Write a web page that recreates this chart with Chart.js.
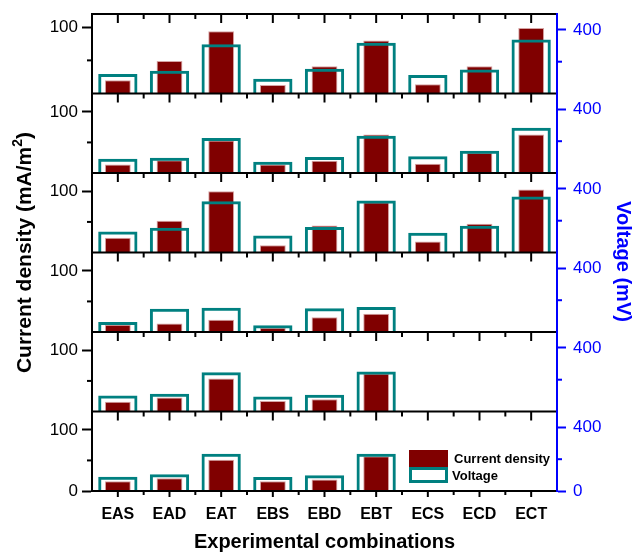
<!DOCTYPE html>
<html>
<head>
<meta charset="utf-8">
<script src="https://cdn.jsdelivr.net/npm/chart.js@4"></script>
<style>
html,body{margin:0;padding:0;background:#fff}
#wrap{width:637px;height:554px;position:relative}
</style>
</head>
<body>
<div id="wrap"><canvas id="c" width="637" height="554"></canvas></div>
<script>
// ---------- data ----------
const categories = ['EAS','EAD','EAT','EBS','EBD','EBT','ECS','ECD','ECT'];

// current density (mA/m2), panels top -> bottom
const current1 = [20, 49, 94, 13, 41, 80, 14, 41, 99];
const current2 = [14, 21, 53, 14, 20, 63, 15, 33, 63];
const current3 = [24, 52, 100, 12, 44, 82, 18, 47, 103];
const current4 = [12, 14, 20, 7, 24, 30, 1, 1, 1];
const current5 = [16, 23, 54, 17, 20, 62, 0.5, 0.5, 0.5];
const current6 = [16, 21, 51, 16, 19, 57, 0, 0, 0];

// voltage (mV), panels top -> bottom
const voltage1 = [122, 143, 310, 92, 155, 319, 117, 151, 340];
const voltage2 = [90, 96, 220, 71, 101, 235, 105, 140, 285];
const voltage3 = [132, 155, 323, 107, 161, 327, 124, 168, 352];
const voltage4 = [63, 147, 153, 42, 149, 157, 4, 4, 4];
const voltage5 = [101, 111, 247, 94, 105, 252, 2, 2, 2];
const voltage6 = [90, 105, 235, 88, 99, 235, 0, 0, 0];

const currentSeries = [current1, current2, current3, current4, current5, current6];
const voltageSeries = [voltage1, voltage2, voltage3, voltage4, voltage5, voltage6];

const currentMax = [120, 130, 130, 130, 130, 130];
const voltageMax = [500, 500, 500, 500, 500, 500];
const currentTicks = [[100], [100], [100], [100], [100], [0, 100]];
const voltageTicks = [[400], [400], [400], [400], [400], [0, 400]];
const currentMinorTick = 50;
const voltageMinorTick = 200;

const seriesNames = ['Current density', 'Voltage'];
const xTitle = 'Experimental combinations';
const yLeftTitleMain = 'Current density (mA/m';
const yLeftTitleSup = '2';
const yLeftTitleEnd = ')';
const yRightTitle = 'Voltage (mV)';

// ---------- style ----------
const RED = '#800000';
const TEAL = '#008080';
const BLUE = '#0000ff';
const FONT = "'Liberation Sans', Arial, Helvetica, sans-serif";
Chart.defaults.font.family = FONT;
Chart.defaults.color = '#000';

const NP = currentSeries.length;

const datasets = [];
for (let p = 0; p < NP; p++) {
  datasets.push({
    label: seriesNames[1],
    data: voltageSeries[p],
    yAxisID: 'v' + p,
    backgroundColor: 'rgba(0,0,0,0)',
    borderColor: TEAL,
    borderWidth: 3,
    barPercentage: 0.76,
    categoryPercentage: 1,
    grouped: false,
    order: 0
  });
  datasets.push({
    label: seriesNames[0],
    data: currentSeries[p],
    yAxisID: 'y' + p,
    backgroundColor: RED,
    borderColor: '#d6a3a3',
    borderWidth: 1,
    barPercentage: 0.5,
    categoryPercentage: 1,
    grouped: false,
    order: 1
  });
}

function fixV(width) {
  return s => { s.width = width; s.paddingTop = 0; s.paddingBottom = 0; };
}

const scales = {
  x: {
    type: 'category',
    labels: categories,
    position: 'bottom',
    offset: true,
    grid: { display: false },
    border: { display: false },
    ticks: { font: { size: 16, weight: 'bold' }, color: '#000', padding: 6, maxRotation: 0, autoSkip: false },
    title: { display: true, text: xTitle, font: { size: 20, weight: 'bold' }, color: '#000', padding: { top: 0, bottom: 0 } },
    afterFit: s => { s.height = 63; s.paddingLeft = 0; s.paddingRight = 0; }
  }
};
for (let p = 0; p < NP; p++) {
  scales['y' + p] = {
    type: 'linear',
    position: 'left',
    stack: 'left',
    stackWeight: 1,
    weight: NP - p,
    min: 0,
    max: currentMax[p],
    afterBuildTicks: s => { s.ticks = currentTicks[p].map(v => ({ value: v })); },
    grid: { display: true, drawOnChartArea: false, drawTicks: true, tickLength: 10, tickWidth: 2, tickColor: '#000' },
    border: { display: true, color: '#000', width: 2 },
    ticks: { font: { size: 17 }, color: '#000', padding: 4, callback: v => String(v) },
    afterFit: fixV(92)
  };
  scales['v' + p] = {
    type: 'linear',
    position: 'right',
    stack: 'right',
    stackWeight: 1,
    weight: p,
    min: 0,
    max: voltageMax[p],
    afterBuildTicks: s => { s.ticks = voltageTicks[p].map(v => ({ value: v })); },
    grid: { display: true, drawOnChartArea: false, drawTicks: true, tickLength: 9, tickWidth: 2, tickColor: BLUE },
    border: { display: true, color: BLUE, width: 2 },
    ticks: { font: { size: 17 }, color: BLUE, padding: 7, callback: v => String(v) },
    afterFit: fixV(80)
  };
}

function line(ctx, x1, y1, x2, y2) {
  ctx.beginPath(); ctx.moveTo(x1, y1); ctx.lineTo(x2, y2); ctx.stroke();
}

const decorPlugin = {
  id: 'decor',
  afterDatasetsDraw(chart) {
    const { ctx, chartArea: ca, scales: sc } = chart;
    const x = sc.x;
    const centers = categories.map((c, i) => x.getPixelForValue(i));
    const bounds = [];
    for (let i = 0; i < centers.length - 1; i++) bounds.push((centers[i] + centers[i + 1]) / 2);
    ctx.save();
    ctx.strokeStyle = '#000';
    ctx.lineWidth = 2;
    ctx.lineCap = 'butt';
    for (let p = 0; p < NP; p++) {
      const s = sc['y' + p];
      const yTop = s.top;
      line(ctx, ca.left, yTop, ca.right, yTop);
      centers.forEach(cx => line(ctx, cx, yTop, cx, yTop + 9));
      bounds.forEach(bx => line(ctx, bx, yTop, bx, yTop + 5));
      const ym = s.getPixelForValue(currentMinorTick);
      line(ctx, ca.left - 5, ym, ca.left, ym);
    }
    // bottom axis
    line(ctx, ca.left - 1, ca.bottom, ca.right, ca.bottom);
    centers.forEach(cx => line(ctx, cx, ca.bottom, cx, ca.bottom + 6));
    bounds.forEach(bx => line(ctx, bx, ca.bottom, bx, ca.bottom + 4));
    // right minor ticks
    ctx.strokeStyle = BLUE;
    for (let p = 0; p < NP; p++) {
      const s = sc['v' + p];
      const ym = s.getPixelForValue(voltageMinorTick);
      line(ctx, ca.right, ym, ca.right + 5, ym);
    }
    line(ctx, ca.right, ca.top - 1, ca.right, ca.bottom + 1);

    // left title
    ctx.fillStyle = '#000';
    ctx.textBaseline = 'middle';
    ctx.textAlign = 'left';
    const fMain = 'bold 21px ' + FONT;
    const fSup = 'bold 14px ' + FONT;
    ctx.font = fMain;
    const w1 = ctx.measureText(yLeftTitleMain).width;
    const w3 = ctx.measureText(yLeftTitleEnd).width;
    ctx.font = fSup;
    const w2 = ctx.measureText(yLeftTitleSup).width;
    const total = w1 + w2 + w3;
    ctx.save();
    ctx.translate(25, (ca.top + ca.bottom) / 2);
    ctx.rotate(-Math.PI / 2);
    let tx = -total / 2;
    ctx.font = fMain; ctx.fillText(yLeftTitleMain, tx, 0); tx += w1;
    ctx.font = fSup; ctx.fillText(yLeftTitleSup, tx, -7); tx += w2;
    ctx.font = fMain; ctx.fillText(yLeftTitleEnd, tx, 0);
    ctx.restore();

    // right title
    ctx.save();
    ctx.translate(623, (ca.top + ca.bottom) / 2 + 9);
    ctx.rotate(Math.PI / 2);
    ctx.fillStyle = BLUE;
    ctx.font = 'bold 20px ' + FONT;
    ctx.textAlign = 'center';
    ctx.fillText(yRightTitle, 0, 0);
    ctx.restore();

    // legend
    const lx = 409, ly = 450;
    ctx.fillStyle = RED;
    ctx.fillRect(lx, ly, 39, 17);
    ctx.strokeStyle = TEAL;
    ctx.lineWidth = 3;
    ctx.strokeRect(lx + 1.5, ly + 18.5, 36, 13);
    ctx.fillStyle = '#000';
    ctx.font = 'bold 13px ' + FONT;
    ctx.textAlign = 'left';
    ctx.textBaseline = 'middle';
    ctx.fillText(seriesNames[0], lx + 45, ly + 9);
    ctx.fillText(seriesNames[1], lx + 43, ly + 26);
    ctx.restore();
  }
};

new Chart(document.getElementById('c'), {
  type: 'bar',
  data: { labels: categories, datasets },
  options: {
    responsive: false,
    animation: false,
    devicePixelRatio: 1,
    layout: { padding: { top: 14, left: 0, right: 0, bottom: 0 } },
    plugins: { legend: { display: false }, tooltip: { enabled: false }, title: { display: false } },
    scales
  },
  plugins: [decorPlugin]
});
</script>
</body>
</html>
